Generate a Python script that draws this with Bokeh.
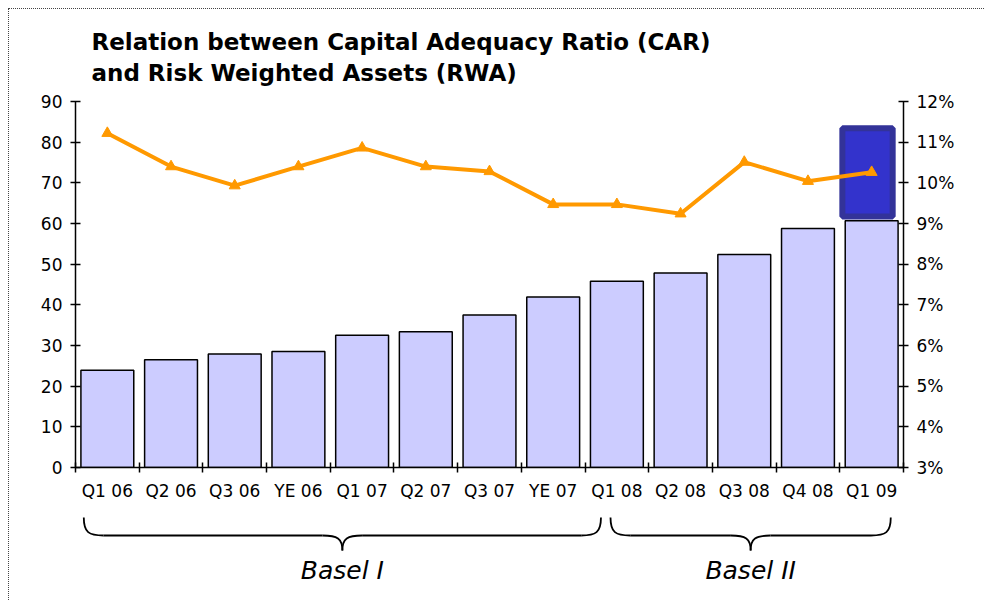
from bokeh.plotting import figure
from bokeh.models import Range1d, LinearAxis, FixedTicker, PrintfTickFormatter, Title
from bokeh.layouts import column
from bokeh.core.properties import value
from bokeh.embed import file_html
from bokeh.resources import INLINE

# ---- data ----
categories = ["Q1 06", "Q2 06", "Q3 06", "YE 06", "Q1 07", "Q2 07", "Q3 07",
              "YE 07", "Q1 08", "Q2 08", "Q3 08", "Q4 08", "Q1 09"]
rwa = [23.9, 26.5, 27.9, 28.5, 32.5, 33.4, 37.5, 41.9, 45.8, 47.8, 52.4, 58.8, 60.7]
car_pct = [11.22, 10.40, 9.93, 10.40, 10.86, 10.40, 10.28, 9.47, 9.47, 9.24, 10.51, 10.04, 10.26]
left_ticks = [0, 10, 20, 30, 40, 50, 60, 70, 80, 90]
right_ticks = [3, 4, 5, 6, 7, 8, 9, 10, 11, 12]
highlight_low = 61.7
highlight_high = 83.4
groups = ["Basel I", "Basel II"]
group_start = [0.13, 8.4]
group_end = [8.25, 12.8]
title_lines = ["Relation between Capital Adequacy Ratio (CAR)", "and Risk Weighted Assets (RWA)"]

FONT = "DejaVu Sans"
n = len(categories)
xs = [i + 0.5 for i in range(n)]

p = figure(width=975, height=496, x_range=Range1d(0, n), y_range=Range1d(0, 90),
           output_backend="svg", toolbar_location=None,
           min_border_left=66, min_border_right=81, min_border_top=92, min_border_bottom=38)
p.outline_line_color = None
p.grid.visible = False
p.background_fill_color = "white"
p.border_fill_color = "white"

p.add_layout(Title(text="\n".join(title_lines), align="left", offset=16,
                   text_font=FONT, text_font_style="bold", text_font_size="23px",
                   text_line_height=1.22, text_color="black", standoff=30), "above")

p.extra_y_ranges = {"car": Range1d(3, 12)}

# bars
p.vbar(x=xs, top=rwa, bottom=0, width=0.83, fill_color="#CCCCFF",
       line_color="black", line_width=1.5)

# highlight box on last category
hi_i = n - 1
p.quad(left=[hi_i + 0.04], right=[hi_i + 0.83], bottom=[highlight_low], top=[highlight_high],
       fill_color="#3333CC", line_color="#333399", line_width=6)

# CAR line
p.line(xs, car_pct, y_range_name="car", line_color="#FF9900", line_width=4)
p.scatter(xs, car_pct, y_range_name="car", marker="triangle", size=11,
          fill_color="#FF9900", line_color="#FF9900")

def style_axis(ax):
    ax.axis_line_color = "black"
    ax.axis_line_width = 1.5
    ax.major_tick_line_color = "black"
    ax.major_tick_line_width = 1.5
    ax.major_tick_in = 5
    ax.major_tick_out = 5
    ax.minor_tick_line_color = None
    ax.major_label_text_font = FONT
    ax.major_label_text_font_size = "17px"
    ax.major_label_text_color = "black"

ya = p.yaxis[0]
ya.ticker = FixedTicker(ticks=left_ticks)
style_axis(ya)
ya.major_label_standoff = 8

ra = LinearAxis(y_range_name="car", ticker=FixedTicker(ticks=right_ticks),
                formatter=PrintfTickFormatter(format="%d%%"))
style_axis(ra)
ra.major_label_standoff = 8
p.add_layout(ra, "right")

xa = p.xaxis[0]
xa.ticker = FixedTicker(ticks=xs, minor_ticks=list(range(n + 1)))
style_axis(xa)
xa.major_tick_line_color = None
xa.minor_tick_line_color = "black"
xa.minor_tick_line_width = 1.5
xa.minor_tick_in = 5
xa.minor_tick_out = 5
xa.major_label_standoff = 8
xa.major_label_overrides = {x: c for x, c in zip(xs, categories)}

# ---- braces panel ----
p2 = figure(width=975, height=95, x_range=p.x_range, y_range=Range1d(95, 0),
            x_axis_type=None, y_axis_type=None, output_backend="svg", toolbar_location=None,
            min_border_left=66, min_border_right=81, min_border_top=0, min_border_bottom=0)
p2.outline_line_color = None
p2.grid.visible = False

y_top, y_mid, y_tip, d = 12, 30, 45, 0.31
bx0, by0, bx1, by1, c0x, c0y, c1x, c1y = [], [], [], [], [], [], [], []
lx0, ly0, lx1, ly1 = [], [], [], []
mids = []
for s, e in zip(group_start, group_end):
    m = (s + e) / 2
    mids.append(m)
    segs = [
        ((s, y_top), (s + d, y_mid), (s, y_mid - 3), (s + 0.08, y_mid)),
        ((m - d, y_mid), (m, y_tip), (m - 0.08, y_mid), (m, y_mid + 3)),
        ((m, y_tip), (m + d, y_mid), (m, y_mid + 3), (m + 0.08, y_mid)),
        ((e - d, y_mid), (e, y_top), (e - 0.08, y_mid), (e, y_mid - 3)),
    ]
    for (a, b, c0, c1) in segs:
        bx0.append(a[0]); by0.append(a[1]); bx1.append(b[0]); by1.append(b[1])
        c0x.append(c0[0]); c0y.append(c0[1]); c1x.append(c1[0]); c1y.append(c1[1])
    lx0 += [s + d, m + d]; ly0 += [y_mid, y_mid]; lx1 += [m - d, e - d]; ly1 += [y_mid, y_mid]

p2.bezier(x0=bx0, y0=by0, x1=bx1, y1=by1, cx0=c0x, cy0=c0y, cx1=c1x, cy1=c1y,
          line_color="black", line_width=1.8)
p2.segment(x0=lx0, y0=ly0, x1=lx1, y1=ly1, line_color="black", line_width=1.8)
p2.text(x=mids, y=[65] * len(mids), text=groups, text_align="center", text_baseline="middle",
        text_font=value(FONT), text_font_style="italic", text_font_size="25px", text_color="black")

layout = column(p, p2, spacing=0)
layout.styles = {"border-left": "1px dotted #444", "border-top": "1px dotted #444",
                 "margin-left": "8px", "margin-top": "8px"}

open("out.html", "w").write(file_html(layout, INLINE))
